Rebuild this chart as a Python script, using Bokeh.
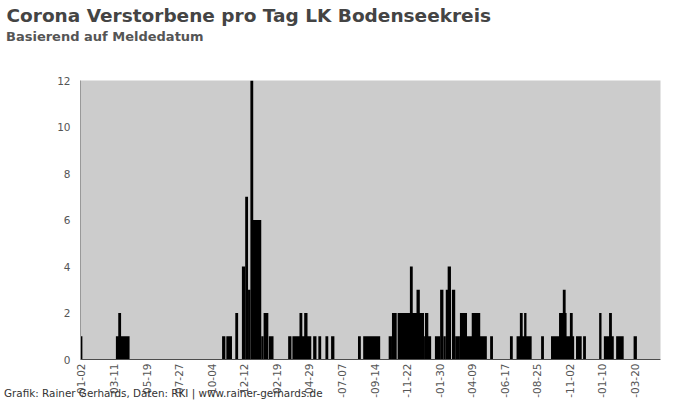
import math
import pandas as pd
from bokeh.plotting import figure
from bokeh.models import (ColumnDataSource, Range1d, FixedTicker,
                          DatetimeTickFormatter, Title, Span)
from bokeh.embed import file_html
from bokeh.resources import INLINE

title_text = "Corona Verstorbene pro Tag LK Bodenseekreis"
subtitle_text = "Basierend auf Meldedatum"
footer_text = "Grafik: Rainer Gerhards, Daten: RKI | www.rainer-gerhards.de"

# runs of reported deaths per day (start date, number of days, deaths per day)
seg_start = [
    "2020-01-01", "2020-03-15", "2020-03-20", "2020-10-26", "2020-11-04",
    "2020-11-23", "2020-12-07", "2020-12-14", "2020-12-20", "2020-12-25",
    "2020-12-30", "2021-01-17", "2021-01-22", "2021-02-02",
    "2021-03-15", "2021-03-24", "2021-04-08", "2021-04-18", "2021-05-07",
    "2021-05-18", "2021-06-02", "2021-06-14", "2021-08-10", "2021-08-21",
    "2021-10-14", "2021-10-21", "2021-11-02", "2021-11-28", "2021-12-12",
    "2021-12-28", "2021-12-30",
    "2022-01-20", "2022-01-31", "2022-02-07", "2022-02-12", "2022-02-16",
    "2022-02-25", "2022-03-04", "2022-03-14", "2022-03-21", "2022-04-08",
    "2022-05-17", "2022-06-28", "2022-07-12", "2022-07-19", "2022-07-28",
    "2022-09-02", "2022-09-23", "2022-10-10", "2022-10-18", "2022-11-02",
    "2022-11-15", "2022-11-30",
    "2023-01-03", "2023-01-13", "2023-01-24", "2023-02-08", "2023-03-17",
]
seg_days = [
    3, 29, 6, 7, 12,
    6, 7, 6, 5, 6,
    18, 5, 10, 10,
    7, 40, 6, 7, 7,
    6, 6, 7, 6, 36,
    7, 10, 56, 6, 7,
    15, 7,
    11, 7, 5, 11, 7,
    7, 10, 15, 50, 18,
    6, 6, 32, 6, 5,
    6, 49, 16, 6, 6,
    12, 6,
    5, 21, 6, 16, 7,
]
seg_value = [
    1, 1, 2, 1, 1,
    2, 4, 7, 3, 12,
    6, 1, 2, 1,
    1, 1, 2, 2, 1,
    1, 1, 1, 1, 1,
    1, 2, 2, 4, 3,
    1, 2,
    1, 3, 1, 3, 4,
    3, 1, 2, 1, 2,
    1, 1, 1, 2, 2,
    1, 1, 2, 3, 2,
    1, 1,
    2, 1, 2, 1, 1,
]

tick_dates = [
    "2020-01-02", "2020-03-11", "2020-05-19", "2020-07-27", "2020-10-04",
    "2020-12-12", "2021-02-19", "2021-04-29", "2021-07-07", "2021-09-14",
    "2021-11-22", "2022-01-30", "2022-04-09", "2022-06-17", "2022-08-25",
    "2022-11-02", "2023-01-10", "2023-03-20",
]
y_ticks = [0, 2, 4, 6, 8, 10, 12]

FONT = "DejaVu Sans"

left = pd.to_datetime(seg_start)
right = left + pd.to_timedelta(seg_days, unit="D")
src = ColumnDataSource(dict(left=left, right=right, top=seg_value,
                            bottom=[0] * len(seg_value)))

p = figure(width=700, height=400, x_axis_type="datetime",
           x_range=Range1d(pd.Timestamp("2019-12-31"), pd.Timestamp("2023-05-13")),
           y_range=Range1d(0, 12),
           output_backend="svg", toolbar_location=None, title=None,
           min_border_left=80, min_border_right=40,
           min_border_top=80, min_border_bottom=40)

p.background_fill_color = "#cccccc"
p.border_fill_color = "white"
p.outline_line_color = None
p.xgrid.visible = False
p.ygrid.visible = False

p.quad(left="left", right="right", top="top", bottom="bottom", source=src,
       fill_color="black", line_color=None)
p.add_layout(Span(location=0, dimension="width", line_color="black", line_width=1))

tick_ms = [pd.Timestamp(d).value / 1e6 for d in tick_dates]
xa = p.xaxis[0]
xa.ticker = FixedTicker(ticks=tick_ms)
fmt = "-%m-%d"
xa.formatter = DatetimeTickFormatter(
    microseconds=fmt, milliseconds=fmt, seconds=fmt, minsec=fmt, minutes=fmt,
    hourmin=fmt, hours=fmt, days=fmt, months=fmt, years=fmt)
xa.major_label_orientation = math.pi / 2
xa.major_label_standoff = 4

ya = p.yaxis[0]
ya.ticker = FixedTicker(ticks=y_ticks)
ya.major_label_standoff = 10

for ax in (xa, ya):
    ax.axis_line_color = "#999999"
    ax.major_tick_line_color = None
    ax.minor_tick_line_color = None
    ax.major_tick_out = 0
    ax.major_tick_in = 0
    ax.minor_tick_out = 0
    ax.minor_tick_in = 0
    ax.major_label_text_font = FONT
    ax.major_label_text_font_size = "10.5px"
    ax.major_label_text_color = "#555555"

# spacer between the plot area and the subtitle
p.add_layout(Title(text=" ", text_font=FONT, text_font_size="13px",
                   standoff=19.8), "above")
p.add_layout(Title(text=subtitle_text, text_font=FONT, text_font_size="13px",
                   text_font_style="bold", text_color="#555555",
                   align="left", offset=-74.5, standoff=0), "above")
p.add_layout(Title(text=title_text, text_font=FONT, text_font_size="18.5px",
                   text_font_style="bold", text_color="#444444",
                   align="left", offset=-74, standoff=1.8), "above")
p.add_layout(Title(text=footer_text, text_font=FONT, text_font_size="10.4px",
                   text_font_style="normal", text_color="#333333",
                   align="left", offset=-76.5, standoff=-28,
                   vertical_align="top"), "below")

open("out.html", "w").write(file_html(p, INLINE))
